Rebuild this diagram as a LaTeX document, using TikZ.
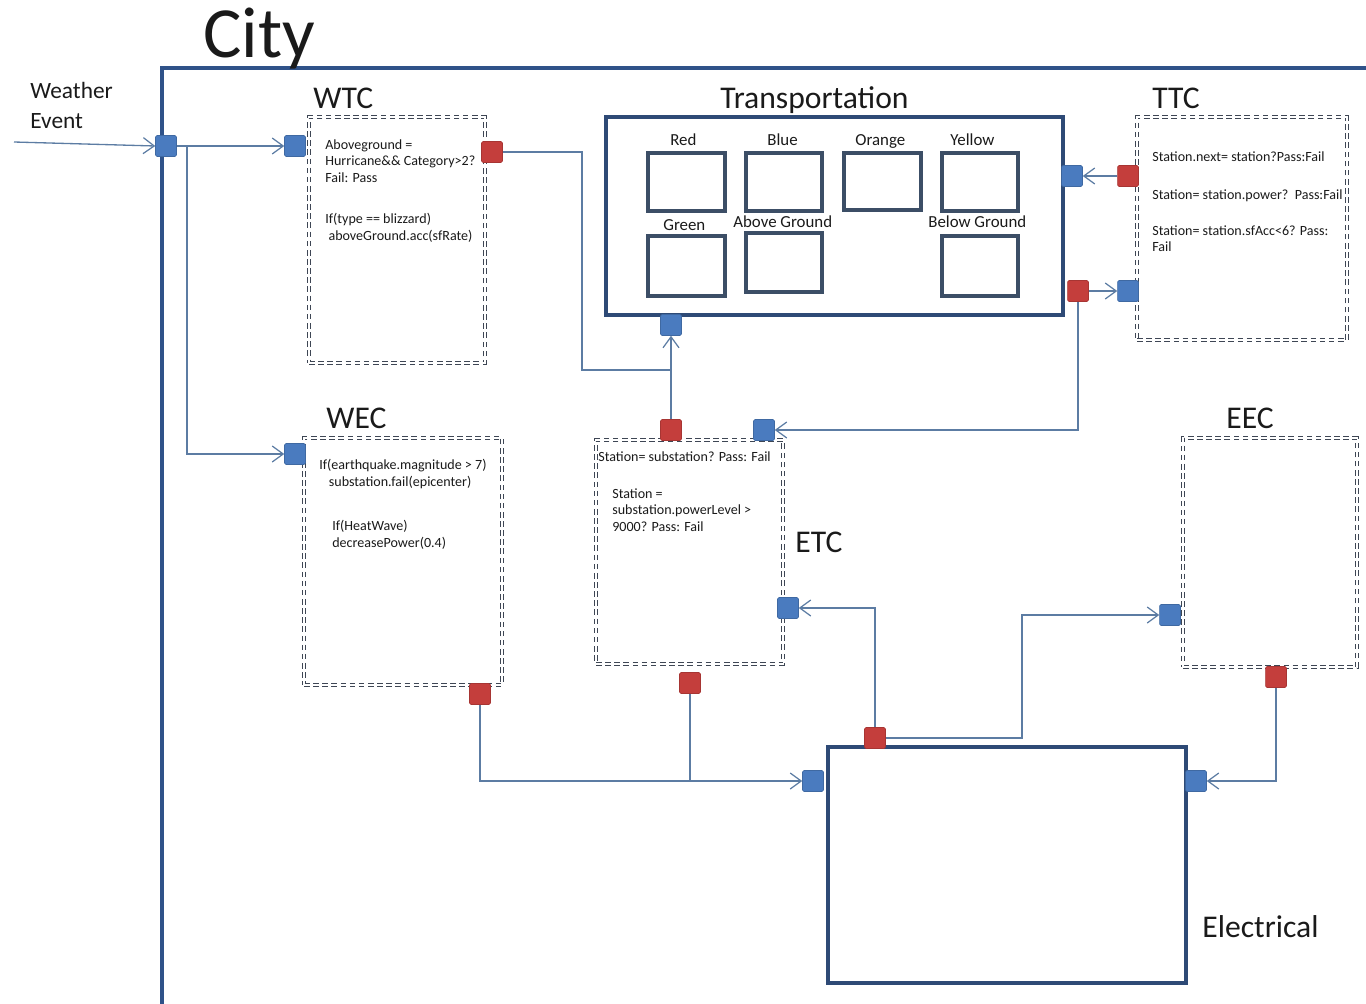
\documentclass[tikz,border=0pt]{standalone}
\usepackage{fontspec}
\setmainfont{Carlito}
\usetikzlibrary{arrows.meta,fit}

\definecolor{framec}{HTML}{2F5289}
\definecolor{boxc}{HTML}{2E4A76}
\definecolor{innerc}{HTML}{3C4E66}
\definecolor{portb}{HTML}{4A7BBF}
\definecolor{portr}{HTML}{C43E3C}
\definecolor{wirec}{HTML}{5C7CA3}
\definecolor{dashc}{HTML}{3E4654}
\definecolor{txt}{HTML}{1A1A1A}

\tikzset{
  port/.style={rectangle, minimum size=0.42cm, inner sep=0, rounded corners=0.8pt},
  bport/.style={port, fill=portb, draw=portb!85!black, line width=0.3pt},
  rport/.style={port, fill=portr, draw=portr!85!black, line width=0.3pt},
  wire/.style={draw=wirec, line width=0.75pt},
  flow/.style={wire, -{Straight Barb[length=2.2mm,width=3.2mm,line width=0.7pt]}},
  ctrlbox/.style={draw=dashc, line width=0.7pt, double=white, double distance=0.9pt,
    dash pattern=on 3.2pt off 2pt, inner sep=0},
  solidbox/.style={draw=boxc, line width=2.2pt, inner sep=0},
  linebox/.style={draw=innerc, line width=2.2pt, inner sep=0},
  title/.style={font=\fontsize{18}{20}\selectfont, text=txt, inner sep=0, anchor=base west},
  linelabel/.style={font=\fontsize{9.6}{11}\selectfont, text=txt, inner sep=0, anchor=base west},
  rule/.style={font=\fontsize{8}{9.6}\selectfont, text=txt, inner sep=0, align=left, anchor=north west},
}

\begin{document}
\begin{tikzpicture}[x=0.02cm, y=-0.02cm]
  \useasboundingbox (0,0) rectangle (1366,1004);

  % city frame
  \draw[framec, line width=1.8pt] (162,1004) -- (162,68) -- (1366,68);
  \node[font=\fontsize{41}{44}\selectfont, text=txt, inner sep=0, anchor=base west] (city) at (203,57) {City};
  \node[font=\fontsize{13.3}{16}\selectfont, text=txt, inner sep=0, anchor=base west] (weather) at (30,98) {Weather};
  \node[font=\fontsize{13.3}{16}\selectfont, text=txt, inner sep=0, anchor=base west] (event) at (30,128) {Event};

  % control boxes
  \node[ctrlbox, fit={(309,117) (485,363)}] (wtc) {};
  \node[ctrlbox, fit={(304,438) (502,685)}] (wec) {};
  \node[ctrlbox, fit={(596,440) (783,664)}] (etc) {};
  \node[ctrlbox, fit={(1137,117) (1347,340)}] (ttc) {};
  \node[ctrlbox, fit={(1183,438) (1357,667)}] (eec) {};

  \node[title] (wtclbl) at (313,108) {WTC};
  \node[title] (weclbl) at (326,428) {WEC};
  \node[title] (etclbl) at (795,552) {ETC};
  \node[title] (ttclbl) at (1152,108) {TTC};
  \node[title] (eeclbl) at (1226,428) {EEC};

  % transportation system
  \node[solidbox, fit={(606,117) (1063,315)}] (trans) {};
  \node[title] (translbl) at (720,108) {Transportation};
  \node[linebox, fit={(648,153) (725,211)}] (lred) {};
  \node[linebox, fit={(746,153) (822,211)}] (lblue) {};
  \node[linebox, fit={(844,153) (921,210)}] (lorange) {};
  \node[linebox, fit={(942,153) (1018,211)}] (lyellow) {};
  \node[linebox, fit={(648,236) (725,296)}] (lgreen) {};
  \node[linebox, fit={(746,233) (822,292)}] (labove) {};
  \node[linebox, fit={(942,236) (1018,296)}] (lbelow) {};
  \node[linelabel] (tred) at (670,145) {Red};
  \node[linelabel] (tblue) at (767,145) {Blue};
  \node[linelabel] (torange) at (855,145) {Orange};
  \node[linelabel] (tyellow) at (950,145) {Yellow};
  \node[linelabel] (tgreen) at (663,230) {Green};
  \node[linelabel] (tabove) at (733,227) {Above Ground};
  \node[linelabel] (tbelow) at (928,227) {Below Ground};

  % electrical system
  \node[solidbox, fit={(828,747) (1186,983)}] (elec) {};
  \node[title] (eleclbl) at (1202,937) {Electrical};

  % rule texts
  \node[rule] (wtcr1) at (325,139) {Aboveground =\\Hurricane\&\& Category>2?\\Fail: Pass};
  \node[rule] (wtcr2) at (325,213) {If(type == blizzard)\\\ aboveGround.acc(sfRate)};
  \node[rule] (wecr1) at (319,459) {If(earthquake.magnitude > 7)\\\ \ \ substation.fail(epicenter)};
  \node[rule] (wecr2) at (332,520) {If(HeatWave)\\decreasePower(0.4)};
  \node[rule] (etcr1) at (598,451) {Station= substation? Pass: Fail};
  \node[rule] (etcr2) at (612,488) {Station =\\substation.powerLevel >\\9000? Pass: Fail};
  \node[rule] (ttcr1) at (1152,151) {Station.next= station?Pass:Fail};
  \node[rule] (ttcr2) at (1152,189) {Station= station.power?\ \ Pass:Fail};
  \node[rule] (ttcr3) at (1152,225) {Station= station.sfAcc<6? Pass:\\Fail};

  % ports
  \node[bport] (cityin) at (166,146) {};
  \node[bport] (wtcin) at (295,146) {};
  \node[rport] (wtcout) at (492,152) {};
  \node[bport] (wecin) at (295,454) {};
  \node[rport] (wecout) at (480,694) {};
  \node[bport] (transin) at (671,325) {};
  \node[bport] (transin2) at (1072,176) {};
  \node[rport] (transout) at (1078,291) {};
  \node[rport] (ttcout) at (1128,176) {};
  \node[bport] (ttcin) at (1128,291) {};
  \node[rport] (etcout1) at (671,430) {};
  \node[bport] (etcin1) at (764,430) {};
  \node[bport] (etcin2) at (788,608) {};
  \node[rport] (etcout2) at (690,683) {};
  \node[bport] (eecin) at (1170,615) {};
  \node[rport] (eecout) at (1276,677) {};
  \node[rport] (elecout) at (875,738) {};
  \node[bport] (elecin1) at (813,781) {};
  \node[bport] (elecin2) at (1196,781) {};

  % junction points
  \coordinate (src) at (14,142);
  \coordinate (split) at (187,146);
  \coordinate (jw) at (582,370);
  \coordinate (jt) at (671,370);
  \coordinate (je) at (690,781);
  \coordinate (jx) at (1022,738);

  % connectors
  \draw[flow] (src) -- (cityin.west);
  \draw[flow] (cityin) -- (wtcin);
  \draw[flow] (split) |- (wecin);
  \draw[wire] (wtcout) -| (jw) -- (jt);
  \draw[flow] (etcout1) -- (transin);
  \draw[flow] (ttcout) -- (transin2);
  \draw[flow] (transout) -- (ttcin);
  \draw[flow] (transout) |- (etcin1);
  \draw[flow] (wecout) |- (elecin1);
  \draw[wire] (etcout2) -- (je);
  \draw[flow] (elecout) |- (etcin2);
  \draw[flow] (elecout) -- (jx) |- (eecin);
  \draw[flow] (eecout) |- (elecin2);
\end{tikzpicture}
\end{document}
